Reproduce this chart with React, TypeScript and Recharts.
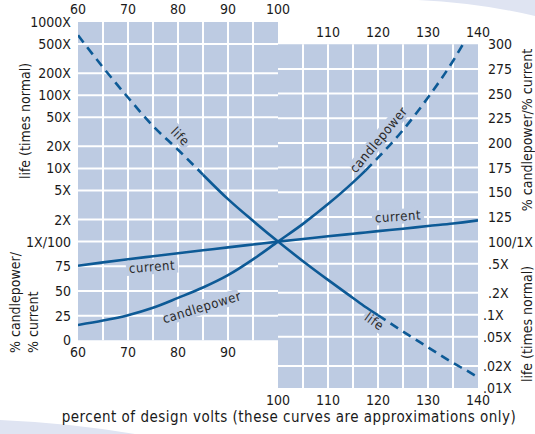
import React from 'react';
import {
  ComposedChart,
  Line,
  XAxis,
  YAxis,
  ReferenceArea,
  ReferenceLine,
  ReferenceDot,
  Label,
} from 'recharts';

// ---------- data ----------
const volts = [60, 65, 70, 75, 80, 85, 90, 95, 100, 105, 110, 115, 117.5, 120, 125, 130, 135, 137, 140];
const lifeTimesNormal = [660, 240, 93, 38, 18, 8.2, 3.8, 1.92, 1, 0.54, 0.3, 0.17, 0.128, 0.099, 0.059, 0.036, 0.022, 0.0185, 0.014];
const candlepowerPct: (number | null)[] = [15.5, 20, 25.5, 33, 43, 53.5, 66, 82, 100, 118, 138, 160, 172, 185, 213, 246, 283, 300, null];
const currentPct = [75.5, 79, 82.2, 85.2, 88.2, 91.2, 94.2, 97.1, 100, 102.7, 105.4, 108, 109.3, 110.6, 113.1, 115.8, 118.3, 119.5, 121.5];

const topTicks = [60, 70, 80, 90, 100, 110, 120, 130, 140];
const bottomTicks = [60, 70, 80, 90, 100, 110, 120, 130, 140];
const lifeLeftTicks = [1000, 500, 200, 100, 50, 20, 10, 5, 2, 1];
const pctLeftTicks = [75, 50, 25, 0];
const pctRightTicks = [300, 275, 250, 225, 200, 175, 150, 125, 100];
const lifeRightTicks = [0.5, 0.2, 0.1, 0.05, 0.02, 0.01];
const verticalLeft = [65, 70, 75, 80, 85, 90, 95];
const verticalRight = [105, 110, 115, 120, 125, 130, 135];
const lifeLeftGrid = [500, 200, 100, 50, 20, 10, 5, 2, 1];
const pctLeftGrid = [75, 50, 25];
const pctRightGrid = [275, 250, 225, 200, 175, 150, 125, 100];
const lifeRightGrid = [0.5, 0.2, 0.1, 0.05, 0.02];

const LIFE_SOLID_FROM = 85;
const LIFE_SOLID_TO = 120;
const CP_SOLID_TO = 117.5;
const PCT_DOMAIN: [number, number] = [-48.3, 322.5];
const LIFE_DOMAIN: [number, number] = [0.01, 1000];
const X_DOMAIN: [number, number] = [60, 140];
const LEFT_PANEL_PCT_MIN = 0;
const RIGHT_PANEL_PCT_MAX = 300;

const rows = volts.map((v, i) => ({
  v,
  lifeDash: v <= LIFE_SOLID_FROM || v >= LIFE_SOLID_TO ? lifeTimesNormal[i] : null,
  lifeSolid: v >= LIFE_SOLID_FROM && v <= LIFE_SOLID_TO ? lifeTimesNormal[i] : null,
  cpSolid: v <= CP_SOLID_TO ? candlepowerPct[i] : null,
  cpDash: v >= CP_SOLID_TO ? candlepowerPct[i] : null,
  current: currentPct[i],
}));

const curveLabels: { text: string; v: number; y: number; axis: string; angle: number; w: number }[] = [
  { text: 'life', v: 80.4, y: 27, axis: 'lifeL', angle: 45, w: 24 },
  { text: 'life', v: 119.2, y: 0.08, axis: 'lifeL', angle: 36, w: 24 },
  { text: 'candlepower', v: 84.8, y: 33, axis: 'pctL', angle: -17, w: 78 },
  { text: 'candlepower', v: 120.2, y: 203, axis: 'pctL', angle: -50, w: 78 },
  { text: 'current', v: 74.8, y: 74, axis: 'pctL', angle: -4, w: 52 },
  { text: 'current', v: 124, y: 125, axis: 'pctL', angle: -4, w: 52 },
];

// ---------- styles ----------
const FONT = "'Liberation Sans Narrow', 'DejaVu Sans Condensed', 'Roboto Condensed', 'Liberation Sans', sans-serif";
const PANEL = '#bdcbe2';
const GRID = '#ffffff';
const LINE = '#0d5a96';
const TEXT = '#1a1a1a';
const TICK_FS = 14;

const lifeFmt = (v: number) => {
  if (v >= 1) return `${v}X`;
  return `${String(v).replace(/^0/, '')}X`;
};

function TopTick(props: any) {
  const { x, y, payload } = props;
  const v = payload.value;
  const upper = v <= 100;
  return (
    <text x={x} y={upper ? y - 8 : y + 15} textAnchor="middle" fontSize={TICK_FS} fill={TEXT} fontFamily={FONT}>
      {v}
    </text>
  );
}

function BottomTick(props: any) {
  const { x, y, payload } = props;
  const v = payload.value;
  const upper = v < 100;
  return (
    <text x={x} y={upper ? y - 31 : y + 17} textAnchor="middle" fontSize={TICK_FS} fill={TEXT} fontFamily={FONT}>
      {v}
    </text>
  );
}

function LeftLifeTick(props: any) {
  const { x, y, payload } = props;
  const v = payload.value;
  const label = v === 1 ? '1X/100' : lifeFmt(v);
  return (
    <text x={x - 7} y={y + 5} textAnchor="end" fontSize={TICK_FS} fill={TEXT} fontFamily={FONT}>
      {label}
    </text>
  );
}

function LeftPctTick(props: any) {
  const { x, y, payload } = props;
  return (
    <text x={x - 7} y={y + 5} textAnchor="end" fontSize={TICK_FS} fill={TEXT} fontFamily={FONT}>
      {payload.value}
    </text>
  );
}

function RightPctTick(props: any) {
  const { x, y, payload } = props;
  const v = payload.value;
  return (
    <text x={x + 10} y={y + 5} textAnchor="start" fontSize={TICK_FS} fill={TEXT} fontFamily={FONT}>
      {v === 100 ? '100/1X' : v}
    </text>
  );
}

function RightLifeTick(props: any) {
  const { x, y, payload } = props;
  const v = payload.value;
  return (
    <text x={x + (v >= 0.2 ? 10 : 5)} y={y + 5} textAnchor="start" fontSize={TICK_FS} fill={TEXT} fontFamily={FONT}>
      {lifeFmt(v)}
    </text>
  );
}

function VText({ x, y, text, anchor = 'middle' }: { x: number; y: number; text: string; anchor?: string }) {
  return (
    <text
      transform={`translate(${x},${y}) rotate(-90)`}
      textAnchor={anchor as any}
      dominantBaseline="central"
      fontSize={14}
      fill={TEXT}
      fontFamily={FONT}
    >
      {text}
    </text>
  );
}

function CurveLabel({ cx, cy, text, angle, w }: any) {
  return (
    <g transform={`translate(${cx},${cy}) rotate(${angle})`}>
      <rect x={-w / 2} y={-8} width={w} height={15} fill={PANEL} />
      <text x={0} y={4} textAnchor="middle" fontSize={13} letterSpacing={0.6} fill="#2a2a2a" fontFamily={FONT}>
        {text}
      </text>
    </g>
  );
}

export default function App() {
  return (
    <div style={{ position: 'absolute', left: 0, top: 0, width: 535, height: 434, background: '#fff' }}>
      <svg width={535} height={434} style={{ position: 'absolute', left: 0, top: 0 }}>
        <path d="M418,0 Q480,3 535,16 L535,0 Z" fill="#dfe4f2" />
        <path d="M0,420 Q70,423 135,434 L0,434 Z" fill="#dfe4f2" />
      </svg>
      <div style={{ position: 'absolute', left: 0, top: 0 }}>
        <ComposedChart width={535} height={434} data={rows} margin={{ top: 0, right: 0, bottom: 0, left: 0 }}>
          <XAxis
            xAxisId="top"
            orientation="top"
            type="number"
            dataKey="v"
            domain={X_DOMAIN}
            ticks={topTicks}
            interval={0}
            height={22}
            axisLine={false}
            tickLine={false}
            tickSize={0}
            tickMargin={0}
            tick={<TopTick />}
            allowDataOverflow
          />
          <XAxis
            xAxisId="bottom"
            orientation="bottom"
            type="number"
            dataKey="v"
            domain={X_DOMAIN}
            ticks={bottomTicks}
            interval={0}
            height={46}
            axisLine={false}
            tickLine={false}
            tickSize={0}
            tickMargin={0}
            tick={<BottomTick />}
            allowDataOverflow
          >
            <Label
              content={(p: any) => {
                const vb = p.viewBox || { x: 78, y: 388, width: 400, height: 46 };
                return (
                  <text
                    x={vb.x + vb.width / 2 + 11}
                    y={vb.y + 34}
                    textAnchor="middle"
                    fontSize={15}
                    letterSpacing={0.5}
                    fill={TEXT}
                    fontFamily={FONT}
                  >
                    percent of design volts (these curves are approximations only)
                  </text>
                );
              }}
            />
          </XAxis>
          <YAxis
            yAxisId="lifeL"
            orientation="left"
            scale="log"
            type="number"
            domain={LIFE_DOMAIN}
            ticks={lifeLeftTicks}
            interval={0}
            width={78}
            axisLine={false}
            tickLine={false}
            tickSize={0}
            tickMargin={0}
            tick={<LeftLifeTick />}
            allowDataOverflow
          >
            <Label
              content={(p: any) => {
                const vb = p.viewBox || { x: 0, y: 22, width: 78, height: 366 };
                return (
                  <g>
                    <VText x={vb.x + 25} y={vb.y + 99} text="life (times normal)" />
                    <VText x={vb.x + 15} y={vb.y + 331} text="% candlepower/" anchor="start" />
                    <VText x={vb.x + 33} y={vb.y + 331} text="% current" anchor="start" />
                  </g>
                );
              }}
            />
          </YAxis>
          <YAxis
            yAxisId="pctL"
            orientation="left"
            mirror
            type="number"
            domain={PCT_DOMAIN}
            ticks={pctLeftTicks}
            interval={0}
            axisLine={false}
            tickLine={false}
            tickSize={0}
            tickMargin={0}
            tick={<LeftPctTick />}
            allowDataOverflow
          />
          <YAxis
            yAxisId="pctR"
            orientation="right"
            type="number"
            domain={PCT_DOMAIN}
            ticks={pctRightTicks}
            interval={0}
            width={57}
            axisLine={false}
            tickLine={false}
            tickSize={0}
            tickMargin={0}
            tick={<RightPctTick />}
            allowDataOverflow
          >
            <Label
              content={(p: any) => {
                const vb = p.viewBox || { x: 478, y: 22, width: 57, height: 366 };
                return (
                  <g>
                    <VText x={vb.x + 49} y={vb.y + 108} text="% candlepower/% current" />
                    <VText x={vb.x + 49} y={vb.y + 302} text="life (times normal)" />
                  </g>
                );
              }}
            />
          </YAxis>
          <YAxis
            yAxisId="lifeR"
            orientation="right"
            mirror
            scale="log"
            type="number"
            domain={LIFE_DOMAIN}
            ticks={lifeRightTicks}
            interval={0}
            axisLine={false}
            tickLine={false}
            tickSize={0}
            tickMargin={0}
            tick={<RightLifeTick />}
            allowDataOverflow
          />

          {/* panels */}
          <ReferenceArea
            xAxisId="bottom"
            yAxisId="pctL"
            x1={X_DOMAIN[0]}
            x2={100}
            y1={LEFT_PANEL_PCT_MIN}
            y2={PCT_DOMAIN[1]}
            fill={PANEL}
            fillOpacity={1}
            stroke="none"
            {...({ zIndex: -300 } as any)}
          />
          <ReferenceArea
            xAxisId="bottom"
            yAxisId="pctL"
            x1={100}
            x2={X_DOMAIN[1]}
            y1={PCT_DOMAIN[0]}
            y2={RIGHT_PANEL_PCT_MAX}
            fill={PANEL}
            fillOpacity={1}
            stroke="none"
            {...({ zIndex: -300 } as any)}
          />

          {/* grid */}
          {verticalLeft.map((x) => (
            <ReferenceLine
              key={`vl${x}`}
              xAxisId="bottom"
              yAxisId="pctL"
              segment={[{ x, y: LEFT_PANEL_PCT_MIN }, { x, y: PCT_DOMAIN[1] }]}
              stroke={GRID}
              strokeWidth={2}
              {...({ zIndex: -200 } as any)}
            />
          ))}
          {verticalRight.map((x) => (
            <ReferenceLine
              key={`vr${x}`}
              xAxisId="bottom"
              yAxisId="pctL"
              segment={[{ x, y: PCT_DOMAIN[0] }, { x, y: RIGHT_PANEL_PCT_MAX }]}
              stroke={GRID}
              strokeWidth={2}
              {...({ zIndex: -200 } as any)}
            />
          ))}
          {lifeLeftGrid.map((y) => (
            <ReferenceLine
              key={`ll${y}`}
              xAxisId="bottom"
              yAxisId="lifeL"
              segment={[{ x: X_DOMAIN[0], y }, { x: 100, y }]}
              stroke={GRID}
              strokeWidth={2}
              {...({ zIndex: -200 } as any)}
            />
          ))}
          {pctLeftGrid.map((y) => (
            <ReferenceLine
              key={`pl${y}`}
              xAxisId="bottom"
              yAxisId="pctL"
              segment={[{ x: X_DOMAIN[0], y }, { x: 100, y }]}
              stroke={GRID}
              strokeWidth={2}
              {...({ zIndex: -200 } as any)}
            />
          ))}
          {pctRightGrid.map((y) => (
            <ReferenceLine
              key={`pr${y}`}
              xAxisId="bottom"
              yAxisId="pctL"
              segment={[{ x: 100, y }, { x: X_DOMAIN[1], y }]}
              stroke={GRID}
              strokeWidth={2}
              {...({ zIndex: -200 } as any)}
            />
          ))}
          {lifeRightGrid.map((y) => (
            <ReferenceLine
              key={`lr${y}`}
              xAxisId="bottom"
              yAxisId="lifeL"
              segment={[{ x: 100, y }, { x: X_DOMAIN[1], y }]}
              stroke={GRID}
              strokeWidth={2}
              {...({ zIndex: -200 } as any)}
            />
          ))}

          {/* curve labels */}
          {curveLabels.map((l, i) => (
            <ReferenceDot
              key={`lab${i}`}
              xAxisId="bottom"
              yAxisId={l.axis}
              x={l.v}
              y={l.y}
              r={0}
              shape={(p: any) => <CurveLabel cx={p.cx} cy={p.cy} text={l.text} angle={l.angle} w={l.w} />}
              {...({ zIndex: -100 } as any)}
            />
          ))}

          {/* curves */}
          <Line xAxisId="bottom" yAxisId="pctL" dataKey="current" type="monotone" stroke={LINE} strokeWidth={2.6} dot={false} activeDot={false} isAnimationActive={false} />
          <Line xAxisId="bottom" yAxisId="pctL" dataKey="cpSolid" type="monotone" stroke={LINE} strokeWidth={2.6} dot={false} activeDot={false} isAnimationActive={false} />
          <Line xAxisId="bottom" yAxisId="pctL" dataKey="cpDash" type="monotone" stroke={LINE} strokeWidth={2.6} strokeDasharray="9 6" dot={false} activeDot={false} isAnimationActive={false} />
          <Line xAxisId="bottom" yAxisId="lifeL" dataKey="lifeSolid" type="monotone" stroke={LINE} strokeWidth={2.6} dot={false} activeDot={false} isAnimationActive={false} />
          <Line xAxisId="bottom" yAxisId="lifeL" dataKey="lifeDash" type="monotone" stroke={LINE} strokeWidth={2.6} strokeDasharray="9 6" dot={false} activeDot={false} isAnimationActive={false} />
        </ComposedChart>
      </div>
    </div>
  );
}
